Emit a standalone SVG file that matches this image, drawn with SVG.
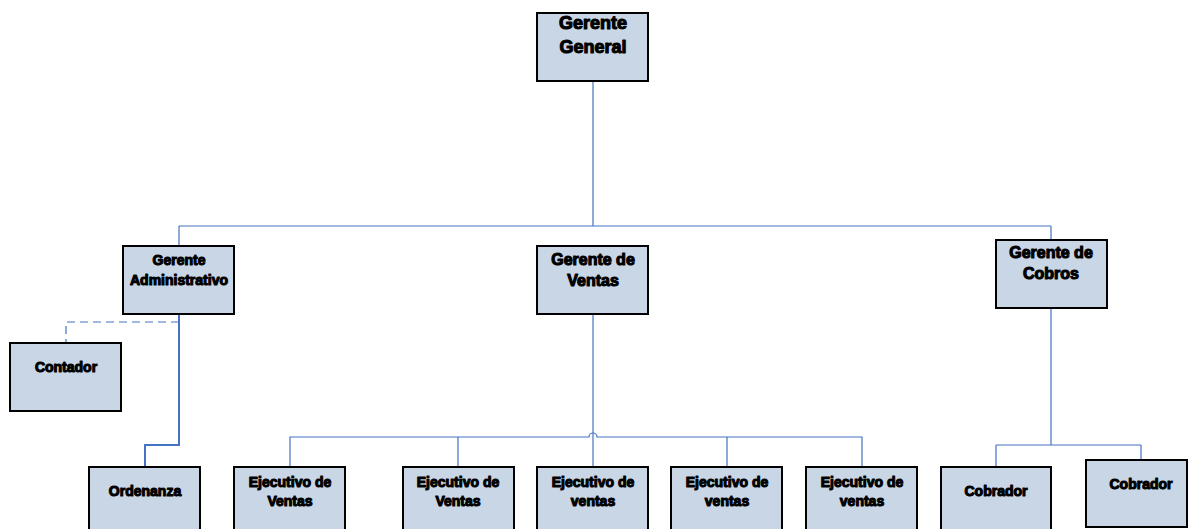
<svg xmlns="http://www.w3.org/2000/svg" width="1188" height="529" viewBox="0 0 1188 529">
<style>
.box{fill:#C9D6E6;stroke:#000;stroke-width:2}
.t{font-family:"Liberation Sans",Arial,sans-serif;font-weight:bold;fill:#000;stroke:#000;stroke-width:1.1;stroke-linejoin:round;text-anchor:middle}
.s18{font-size:18px}.s16{font-size:16px}.s14{font-size:14px}
.ln{fill:none;stroke:#4472C4;stroke-width:1.2}
</style>
<rect width="1188" height="529" fill="#fff"/>
<g id="connectors">
<path class="ln" d="M593 81V226M179 226H1051M179 226V246M1051 226V240"/>
<path class="ln" d="M593 314V467"/>
<path class="ln" d="M290 467V437H589a4 4 0 0 1 8 0H862V467M458 437V467M727 437V467"/>
<path class="ln" style="stroke-width:2" d="M179 314V445H145V467"/>
<path class="ln" style="stroke-dasharray:8 5" d="M179 322H66V342"/>
<path class="ln" d="M1051 308V445M996 445H1141M996 445V467M1141 445V460"/>
</g>
<g id="gerente-general"><rect class="box" x="537" y="13" width="111" height="68"/><text class="t s18" x="593" y="29">Gerente</text><text class="t s18" x="593" y="53">General</text></g>
<g id="gerente-administrativo"><rect class="box" x="123" y="246" width="111" height="68"/><text class="t s14" x="179" y="265">Gerente</text><text class="t s14" x="179" y="285">Administrativo</text></g>
<g id="gerente-ventas"><rect class="box" x="537" y="246" width="111" height="68"/><text class="t s16" x="593" y="265">Gerente de</text><text class="t s16" x="593" y="286">Ventas</text></g>
<g id="gerente-cobros"><rect class="box" x="996" y="240" width="111" height="68"/><text class="t s16" x="1051" y="258">Gerente de</text><text class="t s16" x="1051" y="279">Cobros</text></g>
<g id="contador"><rect class="box" x="10" y="343" width="111" height="68"/><text class="t s14" x="66" y="372">Contador</text></g>
<g id="ordenanza"><rect class="box" x="89" y="467" width="111" height="68"/><text class="t s14" x="145" y="496">Ordenanza</text></g>
<g id="ejecutivo-1"><rect class="box" x="234" y="467" width="111" height="68"/><text class="t s14" x="290" y="487">Ejecutivo de</text><text class="t s14" x="290" y="506">Ventas</text></g>
<g id="ejecutivo-2"><rect class="box" x="403" y="467" width="111" height="68"/><text class="t s14" x="458" y="487">Ejecutivo de</text><text class="t s14" x="458" y="506">Ventas</text></g>
<g id="ejecutivo-3"><rect class="box" x="537" y="467" width="111" height="68"/><text class="t s14" x="593" y="487">Ejecutivo de</text><text class="t s14" x="593" y="506">ventas</text></g>
<g id="ejecutivo-4"><rect class="box" x="671" y="467" width="111" height="68"/><text class="t s14" x="727" y="487">Ejecutivo de</text><text class="t s14" x="727" y="506">ventas</text></g>
<g id="ejecutivo-5"><rect class="box" x="806" y="467" width="111" height="68"/><text class="t s14" x="862" y="487">Ejecutivo de</text><text class="t s14" x="862" y="506">ventas</text></g>
<g id="cobrador-1"><rect class="box" x="941" y="467" width="110" height="68"/><text class="t s14" x="996" y="496">Cobrador</text></g>
<g id="cobrador-2"><rect class="box" x="1086" y="460" width="101" height="67"/><text class="t s14" x="1141" y="489">Cobrador</text></g>
</svg>
